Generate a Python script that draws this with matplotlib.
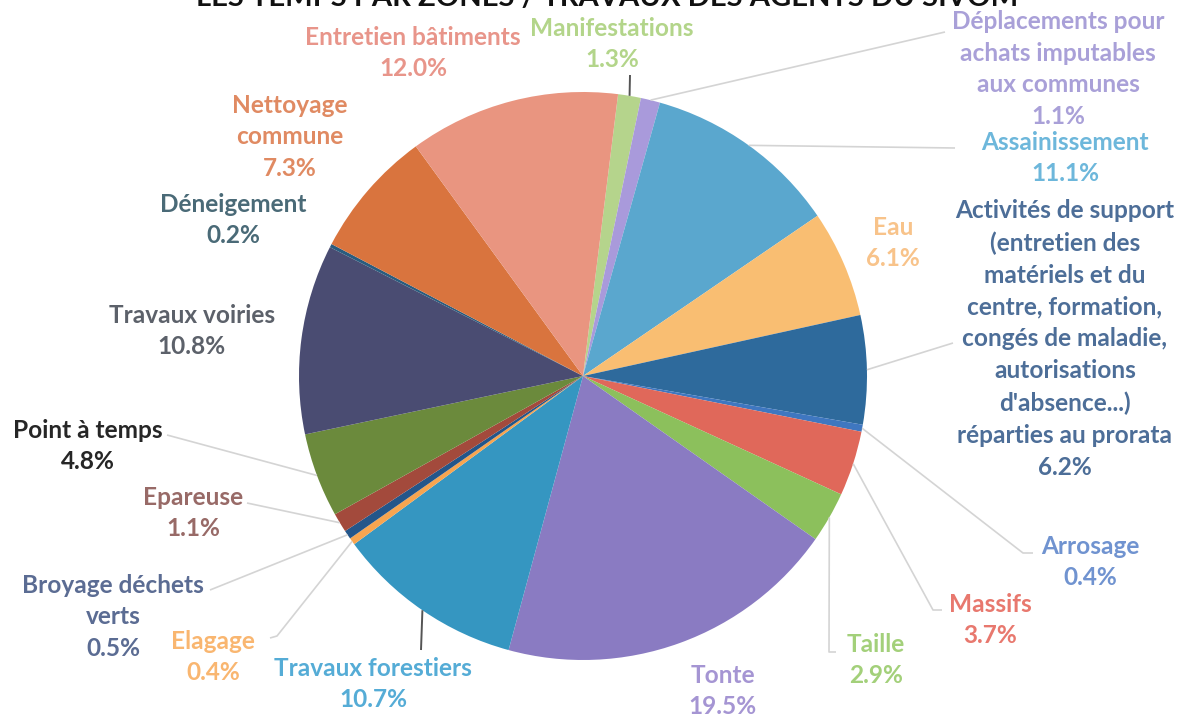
import numpy as np
import matplotlib
matplotlib.use("Agg")
import matplotlib.pyplot as plt

W, H = 1183, 716

# slices, clockwise starting just right of 12 o'clock
labels = ["Manifestations", "Déplacements pour\nachats imputables\naux communes",
          "Assainissement", "Eau",
          "Activités de support\n(entretien des\nmatériels et du\ncentre, formation,\ncongés de maladie,\nautorisations\nd'absence...)\nréparties au prorata",
          "Arrosage", "Massifs", "Taille", "Tonte", "Travaux forestiers", "Elagage",
          "Broyage déchets\nverts", "Epareuse", "Point à temps", "Travaux voiries",
          "Déneigement", "Nettoyage\ncommune", "Entretien bâtiments"]
values = [1.3, 1.1, 11.1, 6.1, 6.2, 0.4, 3.7, 2.9, 19.5, 10.7, 0.4, 0.5, 1.1, 4.8,
          10.8, 0.2, 7.3, 12.0]

wedge_colors = ["#B5D48C", "#A99ADB", "#5AA7CE", "#F9BE72", "#2E6A9C", "#3F77C0",
                "#E0685A", "#8CC05C", "#8A7BC2", "#3596C1", "#F7A550", "#24568A",
                "#A34A3C", "#6B8A3C", "#4A4C72", "#2A5C7E", "#D9743E", "#E99580"]
text_colors = ["#B3D58A", "#A9A0D8", "#6DB7DB", "#F8C38A", "#4D6E98", "#7093D0",
               "#E8786E", "#A3D07A", "#A595D3", "#55ACD6", "#F9B670", "#5B6C93",
               "#986A67", "#262626", "#5C616A", "#4A6A77", "#E08A62", "#E8958A"]

# label block centres (pixels from top-left)
label_x = [612, 1058, 1065, 893, 1065, 1090, 990, 876, 723, 373, 213, 113, 193, 88,
           192, 233, 290, 413]
label_y = [44, 69, 158, 243, 339, 562, 620, 660, 691, 684, 657, 617, 513, 446, 331,
           220, 137, 53]

# leader lines: slice index -> (path points after the wedge edge, dark?)
leaders = {
    0: ([(630, 75)], True),
    1: ([(945, 32)], False),
    2: ([(955, 148)], False),
    4: ([(953, 343)], False),
    5: ([(1023, 553), (1033, 553)], False),
    6: ([(933, 610), (942, 610)], False),
    7: ([(829, 652), (836, 652)], False),
    9: ([(421, 650)], True),
    10: ([(277, 636), (270, 638)], False),
    11: ([(210, 590)], False),
    12: ([(247, 503)], False),
    13: ([(167, 435)], False),
}

cx, cy, R = 583, 376, 284
start_deg = 7.1
fsize, lspace = 17.6, 1.47

plt.rcParams["font.family"] = ["Lato", "DejaVu Sans"]
fig = plt.figure(figsize=(W / 100, H / 100), dpi=100)
ax = fig.add_axes([0, 0, 1, 1])

ax.pie(values, colors=wedge_colors, startangle=90 - start_deg, counterclock=False,
       center=(cx, H - cy), radius=R, wedgeprops=dict(linewidth=0))
ax.set_xlim(0, W)
ax.set_ylim(0, H)
ax.axis("off")

fracs = np.array(values) / sum(values)
cum = np.concatenate([[0], np.cumsum(fracs)])
for i, (pts, dark) in leaders.items():
    mid = np.radians(start_deg + 360 * (cum[i] + cum[i + 1]) / 2)
    px = [cx + R * np.sin(mid)] + [p[0] for p in pts]
    py = [cy - R * np.cos(mid)] + [p[1] for p in pts]
    ax.plot(px, [H - y for y in py], color="#555555" if dark else "#D4D4D4",
            lw=1.4 if dark else 1.2, solid_capstyle="butt")

for lab, v, x, y, c in zip(labels, values, label_x, label_y, text_colors):
    ax.text(x, H - y, f"{lab}\n{v:.1f}%", ha="center", va="center", color=c,
            fontsize=fsize, fontweight="bold", linespacing=lspace)

fig.text(607 / W, 1 - 6 / H, "LES TEMPS PAR ZONES / TRAVAUX DES AGENTS DU SIVOM",
         ha="center", va="baseline", fontsize=21, fontweight="bold", color="#111111")

fig.savefig("out.png", dpi=100)
